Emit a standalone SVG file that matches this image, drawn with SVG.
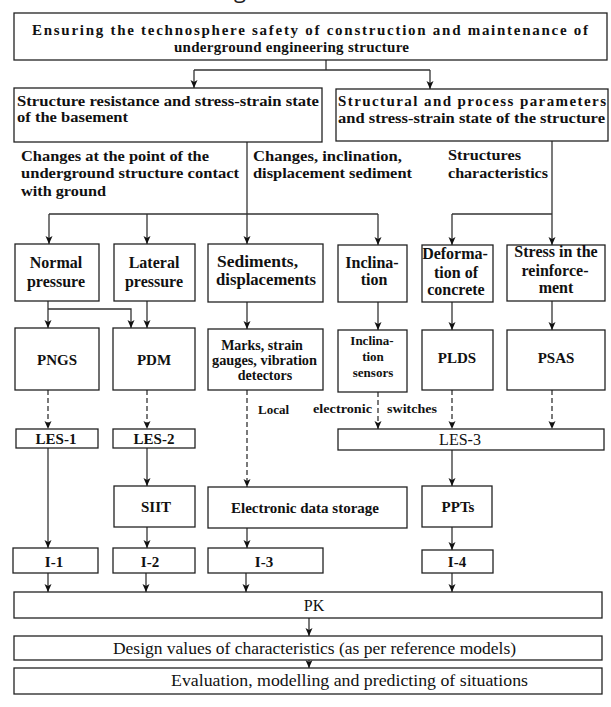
<svg xmlns="http://www.w3.org/2000/svg" width="611" height="707" viewBox="0 0 611 707">
<style>
.bx{fill:#fff;stroke:#222;stroke-width:1.3}
.t{font-family:"Liberation Serif","Times New Roman",serif;font-weight:bold;fill:#111;font-size:15px}
.n{font-weight:normal}
.m{text-anchor:middle}
.c{stroke:#333;stroke-width:1.3;fill:none}
.d{stroke-dasharray:5,3}
</style>
<defs>
<marker id="a" viewBox="0 0 8 8" refX="8" refY="4" markerWidth="8" markerHeight="8" orient="auto" markerUnits="userSpaceOnUse"><path d="M0,0.5 L8,4 L0,7.5 L2,4 z" fill="#111"/></marker>
</defs>
<rect width="611" height="707" fill="#fff"/>
<text x="234" y="-2" style="font-family:'Open Sans',sans-serif;font-size:22px;fill:#222">g</text>

<g id="connectors">
<path class="c" d="M326,60 V70 M194,70 H430"/>
<path class="c" d="M194,70 V88" marker-end="url(#a)"/>
<path class="c" d="M430,70 V89" marker-end="url(#a)"/>
<path class="c" d="M247,142 V244" marker-end="url(#a)"/>
<path class="c" d="M49,214 H378"/>
<path class="c" d="M49,214 V244" marker-end="url(#a)"/>
<path class="c" d="M147,214 V244" marker-end="url(#a)"/>
<path class="c" d="M378,214 V245" marker-end="url(#a)"/>
<path class="c" d="M552,141 V245" marker-end="url(#a)"/>
<path class="c" d="M452,214 H552"/>
<path class="c" d="M452,214 V245" marker-end="url(#a)"/>
<path class="c" d="M48,301 V328" marker-end="url(#a)"/>
<path class="c" d="M48,309 H131 V328" marker-end="url(#a)"/>
<path class="c" d="M147,301 V328" marker-end="url(#a)"/>
<path class="c" d="M247,302 V329" marker-end="url(#a)"/>
<path class="c" d="M378,302 V330" marker-end="url(#a)"/>
<path class="c" d="M452,302 V330" marker-end="url(#a)"/>
<path class="c" d="M552,301 V330" marker-end="url(#a)"/>
<path class="c d" d="M48,390 V429" marker-end="url(#a)"/>
<path class="c d" d="M147,390 V429" marker-end="url(#a)"/>
<path class="c d" d="M247,390 V487" marker-end="url(#a)"/>
<path class="c d" d="M378,392 V429" marker-end="url(#a)"/>
<path class="c d" d="M452,390 V429" marker-end="url(#a)"/>
<path class="c d" d="M552,390 V429" marker-end="url(#a)"/>
<path class="c" d="M48,448 V548" marker-end="url(#a)"/>
<path class="c" d="M147,448 V486" marker-end="url(#a)"/>
<path class="c" d="M147,527 V548" marker-end="url(#a)"/>
<path class="c" d="M247,528 V548" marker-end="url(#a)"/>
<path class="c" d="M452,450 V486" marker-end="url(#a)"/>
<path class="c" d="M452,527 V550" marker-end="url(#a)"/>
<path class="c" d="M48,573 V592" marker-end="url(#a)"/>
<path class="c" d="M146,573 V592" marker-end="url(#a)"/>
<path class="c" d="M246,573 V592" marker-end="url(#a)"/>
<path class="c" d="M452,573 V592" marker-end="url(#a)"/>
<path class="c" d="M309,618 V636" marker-end="url(#a)"/>
<path class="c" d="M309,660 V668" marker-end="url(#a)"/>
</g>

<g id="top">
<rect class="bx" x="14" y="13" width="593" height="47"/>
<text class="t" x="32" y="35" textLength="556" lengthAdjust="spacing">Ensuring the technosphere safety of construction and maintenance of</text>
<text class="t" x="174" y="52" textLength="235" lengthAdjust="spacing">underground engineering structure</text>
</g>
<g id="resistance">
<rect class="bx" x="14" y="88" width="308" height="54"/>
<text class="t" x="17" y="106" textLength="302" lengthAdjust="spacingAndGlyphs">Structure resistance and stress-strain state</text>
<text class="t" x="17" y="122" textLength="111" lengthAdjust="spacingAndGlyphs">of the basement</text>
</g>
<g id="parameters">
<rect class="bx" x="336" y="89" width="272" height="52"/>
<text class="t" x="338" y="106" textLength="268" lengthAdjust="spacing">Structural and process parameters</text>
<text class="t" x="338" y="123" textLength="267" lengthAdjust="spacingAndGlyphs">and stress-strain state of the structure</text>
</g>
<g id="labels">
<text class="t" x="21" y="161" textLength="188" lengthAdjust="spacingAndGlyphs">Changes at the point of the</text>
<text class="t" x="21" y="178" textLength="218" lengthAdjust="spacingAndGlyphs">underground structure contact</text>
<text class="t" x="21" y="196" textLength="85" lengthAdjust="spacingAndGlyphs">with ground</text>
<text class="t" x="253" y="161" textLength="149" lengthAdjust="spacingAndGlyphs">Changes, inclination,</text>
<text class="t" x="253" y="178" textLength="159" lengthAdjust="spacingAndGlyphs">displacement sediment</text>
<text class="t" x="448" y="160" textLength="73" lengthAdjust="spacingAndGlyphs">Structures</text>
<text class="t" x="448" y="178" textLength="100" lengthAdjust="spacingAndGlyphs">characteristics</text>
<text class="t" x="258" y="414" style="font-size:13px">Local</text>
<text class="t" x="313" y="413" textLength="59" lengthAdjust="spacingAndGlyphs" style="font-size:13px">electronic</text>
<text class="t" x="387" y="413" textLength="50" lengthAdjust="spacingAndGlyphs" style="font-size:13px">switches</text>
</g>

<g id="normal">
<rect class="bx" x="15" y="244" width="84" height="57"/>
<text class="t m" x="56" y="268" style="font-size:16px">Normal</text>
<text class="t m" x="56" y="287" style="font-size:16px">pressure</text>
</g>
<g id="lateral">
<rect class="bx" x="114" y="244" width="81" height="57"/>
<text class="t m" x="154" y="268" style="font-size:16px">Lateral</text>
<text class="t m" x="154" y="287" style="font-size:16px">pressure</text>
</g>
<g id="sediments">
<rect class="bx" x="208" y="244" width="115" height="58"/>
<text class="t" x="217" y="267" textLength="81" lengthAdjust="spacingAndGlyphs" style="font-size:16px">Sediments,</text>
<text class="t" x="216" y="285" textLength="100" lengthAdjust="spacingAndGlyphs" style="font-size:16px">displacements</text>
</g>
<g id="inclination">
<rect class="bx" x="338" y="245" width="69" height="57"/>
<text class="t m" x="372" y="268" style="font-size:16px">Inclina-</text>
<text class="t m" x="374" y="285" style="font-size:16px">tion</text>
</g>
<g id="deformation">
<rect class="bx" x="422" y="245" width="71" height="57"/>
<text class="t m" x="455" y="259" style="font-size:16px">Deforma-</text>
<text class="t m" x="456" y="278" style="font-size:16px">tion of</text>
<text class="t m" x="456" y="295" style="font-size:16px">concrete</text>
</g>
<g id="stress">
<rect class="bx" x="507" y="245" width="98" height="56"/>
<text class="t m" x="556" y="257" style="font-size:16px">Stress in the</text>
<text class="t m" x="555" y="276" style="font-size:16px">reinforce-</text>
<text class="t m" x="556" y="293" style="font-size:16px">ment</text>
</g>

<g id="pngs">
<rect class="bx" x="15" y="328" width="84" height="62"/>
<text class="t m" x="57" y="365">PNGS</text>
</g>
<g id="pdm">
<rect class="bx" x="113" y="328" width="82" height="62"/>
<text class="t m" x="154" y="365">PDM</text>
</g>
<g id="marks">
<rect class="bx" x="208" y="329" width="115" height="61"/>
<text class="t m" x="262" y="350" style="font-size:14px">Marks, strain</text>
<text class="t" x="212" y="365" textLength="105" lengthAdjust="spacingAndGlyphs" style="font-size:14px">gauges, vibration</text>
<text class="t m" x="265" y="380" style="font-size:14px">detectors</text>
</g>
<g id="sensors">
<rect class="bx" x="338" y="330" width="69" height="62"/>
<text class="t m" x="372" y="345" style="font-size:13px">Inclina-</text>
<text class="t m" x="373" y="361" style="font-size:13px">tion</text>
<text class="t m" x="373" y="377" style="font-size:13px">sensors</text>
</g>
<g id="plds">
<rect class="bx" x="422" y="330" width="71" height="60"/>
<text class="t m" x="457" y="363">PLDS</text>
</g>
<g id="psas">
<rect class="bx" x="507" y="330" width="98" height="60"/>
<text class="t m" x="556" y="363">PSAS</text>
</g>

<g id="les1">
<rect class="bx" x="16" y="429" width="82" height="19"/>
<text class="t m" x="56" y="444">LES-1</text>
</g>
<g id="les2">
<rect class="bx" x="113" y="429" width="82" height="19"/>
<text class="t m" x="154" y="444">LES-2</text>
</g>
<g id="les3">
<rect class="bx" x="338" y="429" width="266" height="21"/>
<text class="t n m" x="460" y="445" style="font-size:16px">LES-3</text>
</g>
<g id="siit">
<rect class="bx" x="114" y="486" width="81" height="41"/>
<text class="t m" x="156" y="512">SIIT</text>
</g>
<g id="storage">
<rect class="bx" x="208" y="487" width="199" height="41"/>
<text class="t m" x="305" y="513">Electronic data storage</text>
</g>
<g id="ppts">
<rect class="bx" x="422" y="486" width="70" height="41"/>
<text class="t m" x="458" y="512">PPTs</text>
</g>

<g id="i1">
<rect class="bx" x="13" y="548" width="85" height="25"/>
<text class="t m" x="54" y="567">I-1</text>
</g>
<g id="i2">
<rect class="bx" x="113" y="548" width="82" height="25"/>
<text class="t m" x="150" y="567">I-2</text>
</g>
<g id="i3">
<rect class="bx" x="208" y="548" width="115" height="25"/>
<text class="t m" x="264" y="567">I-3</text>
</g>
<g id="i4">
<rect class="bx" x="422" y="550" width="71" height="23"/>
<text class="t m" x="457" y="567">I-4</text>
</g>

<g id="pk">
<rect class="bx" x="14" y="592" width="588" height="26"/>
<text class="t n m" x="314" y="611" style="font-size:16px">PK</text>
</g>
<g id="design">
<rect class="bx" x="14" y="636" width="588" height="24"/>
<text class="t n" x="113" y="654" textLength="403" lengthAdjust="spacingAndGlyphs" style="font-size:16px">Design values of characteristics (as per reference models)</text>
</g>
<g id="evaluation">
<rect class="bx" x="14" y="668" width="588" height="26"/>
<text class="t n" x="171" y="686" textLength="357" lengthAdjust="spacingAndGlyphs" style="font-size:16px">Evaluation, modelling and predicting of situations</text>
</g>
</svg>
